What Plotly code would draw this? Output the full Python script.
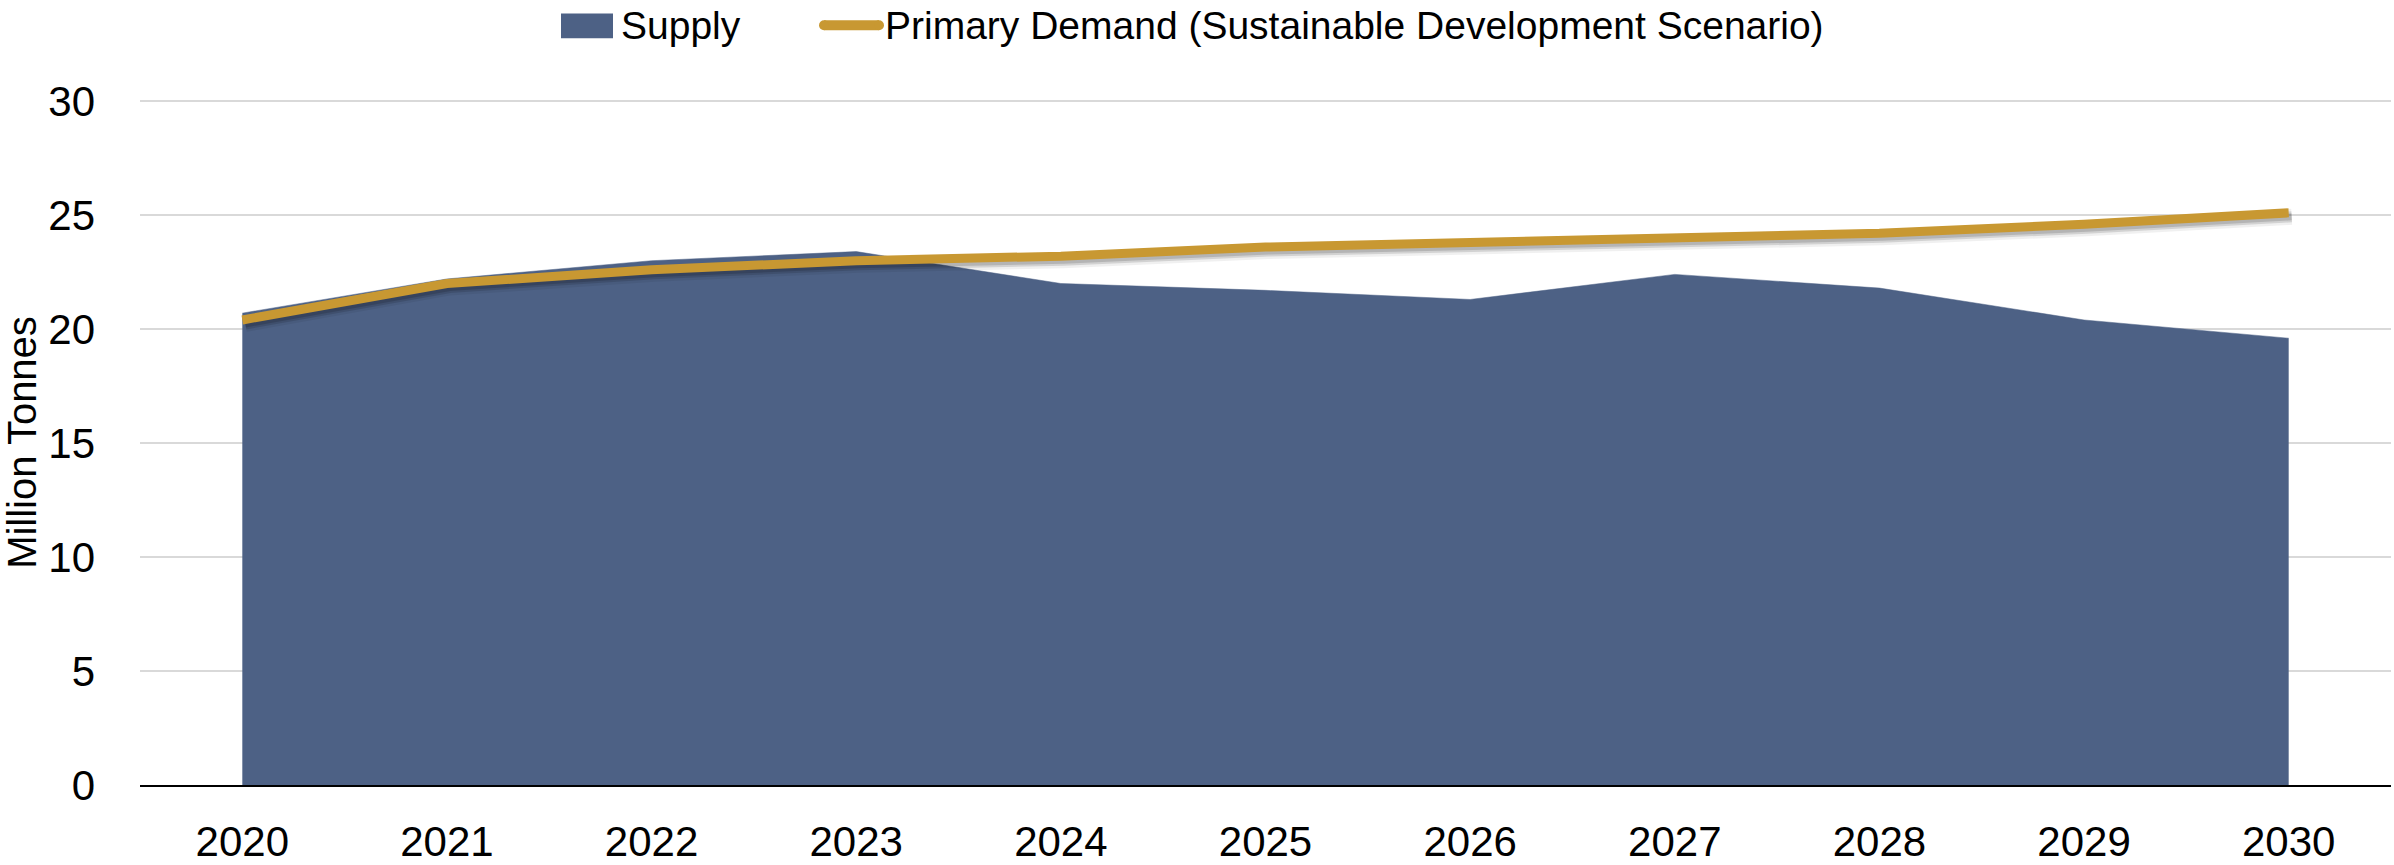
import plotly.graph_objects as go

# Annual values, million tonnes
years = ["2020", "2021", "2022", "2023", "2024", "2025", "2026", "2027", "2028", "2029", "2030"]
supply = [20.7, 22.2, 23.0, 23.4, 22.0, 21.7, 21.3, 22.4, 21.8, 20.4, 19.6]
demand_sds = [20.4, 22.0, 22.6, 23.0, 23.2, 23.6, 23.8, 24.0, 24.2, 24.6, 25.1]
y_ticks = [0, 5, 10, 15, 20, 25, 30]
series_names = ["Supply", "Primary Demand (Sustainable Development Scenario)"]

FONT = "Liberation Sans, Arial, sans-serif"
SUPPLY_COLOR = "#4D6185"
DEMAND_COLOR = "#C89832"

W, H = 2394, 865
M_L, M_R, M_T, M_B = 140, 0, 100, 73
plot_w = W - M_L - M_R
plot_h = H - M_T - M_B
# small pixel offset used for the drop shadow under the demand line
dx = 3 / plot_w
dy = 4 / plot_h
# a hair of headroom so the top gridline at 30 is drawn
Y_RANGE = [0, 30.05]
X_RANGE = [-0.5, 10.5]


def px_x(px):
    return (px - M_L) / plot_w


def px_y(py):
    return (H - M_B - py) / plot_h


fig = go.Figure()

# supply area on the main axes
fig.add_trace(go.Scatter(
    x=years, y=supply, name=series_names[0], mode="lines",
    fill="tozeroy", fillcolor=SUPPLY_COLOR,
    line=dict(color=SUPPLY_COLOR, width=0.5),
    showlegend=False,
))

# soft drop shadow of the demand line, on a slightly offset copy of the axes
for w, a in [(16, 0.06), (11, 0.12), (7, 0.14)]:
    fig.add_trace(go.Scatter(
        x=years, y=demand_sds, mode="lines", xaxis="x2", yaxis="y2",
        line=dict(color=f"rgba(0,0,0,{a})", width=w),
        hoverinfo="skip", showlegend=False,
    ))

# demand line on top
fig.add_trace(go.Scatter(
    x=years, y=demand_sds, name=series_names[1], xaxis="x3", yaxis="y3",
    mode="lines", line=dict(color=DEMAND_COLOR, width=9),
    showlegend=False,
))

# legend: swatch + label for each series
legend_y = px_y(25)
shapes = [
    dict(type="rect", xref="paper", yref="paper",
         x0=px_x(561), x1=px_x(613), y0=px_y(38), y1=px_y(13),
         fillcolor=SUPPLY_COLOR, line=dict(width=0)),
    dict(type="line", xref="paper", yref="paper",
         x0=px_x(824), x1=px_x(879), y0=legend_y, y1=legend_y,
         line=dict(color=DEMAND_COLOR, width=10)),
]
for cx in (824, 879):
    shapes.append(dict(type="circle", xref="paper", yref="paper",
                       x0=px_x(cx - 5), x1=px_x(cx + 5),
                       y0=px_y(30), y1=px_y(20),
                       fillcolor=DEMAND_COLOR, line=dict(width=0)))
annotations = [
    dict(text=series_names[0], xref="paper", yref="paper", x=px_x(619), y=legend_y,
         xanchor="left", yanchor="middle", showarrow=False,
         font=dict(family=FONT, size=39, color="#000000")),
    dict(text=series_names[1], xref="paper", yref="paper", x=px_x(883), y=legend_y,
         xanchor="left", yanchor="middle", showarrow=False,
         font=dict(family=FONT, size=39, color="#000000")),
]

fig.update_layout(
    width=W, height=H,
    margin=dict(l=M_L, r=M_R, t=M_T, b=M_B),
    paper_bgcolor="white", plot_bgcolor="rgba(0,0,0,0)",
    font=dict(family=FONT, size=41, color="#000000"),
    showlegend=False,
    shapes=shapes,
    annotations=annotations,
    xaxis=dict(
        type="category", range=X_RANGE, domain=[0, 1 - dx], anchor="y",
        showgrid=False, showline=True, linecolor="#000000", linewidth=2,
        ticks="", ticklabelstandoff=19, zeroline=False,
        tickfont=dict(family=FONT, size=42),
    ),
    yaxis=dict(
        range=Y_RANGE, domain=[dy, 1], anchor="x", tickvals=y_ticks,
        showgrid=True, gridcolor="#D9D9D9", gridwidth=2,
        showline=False, zeroline=False, ticks="", ticklabelstandoff=44,
        tickfont=dict(family=FONT, size=42),
        title=dict(text="Million Tonnes", standoff=10, font=dict(family=FONT, size=40)),
    ),
    xaxis2=dict(
        type="category", range=X_RANGE, domain=[dx, 1], anchor="y2",
        visible=False, showgrid=False,
    ),
    yaxis2=dict(
        range=Y_RANGE, domain=[0, 1 - dy], anchor="x2",
        visible=False, showgrid=False,
    ),
    xaxis3=dict(
        type="category", range=X_RANGE, domain=[0, 1 - dx], anchor="y3",
        visible=False, showgrid=False,
    ),
    yaxis3=dict(
        range=Y_RANGE, domain=[dy, 1], anchor="x3",
        visible=False, showgrid=False,
    ),
)

fig.write_html("out.html")
